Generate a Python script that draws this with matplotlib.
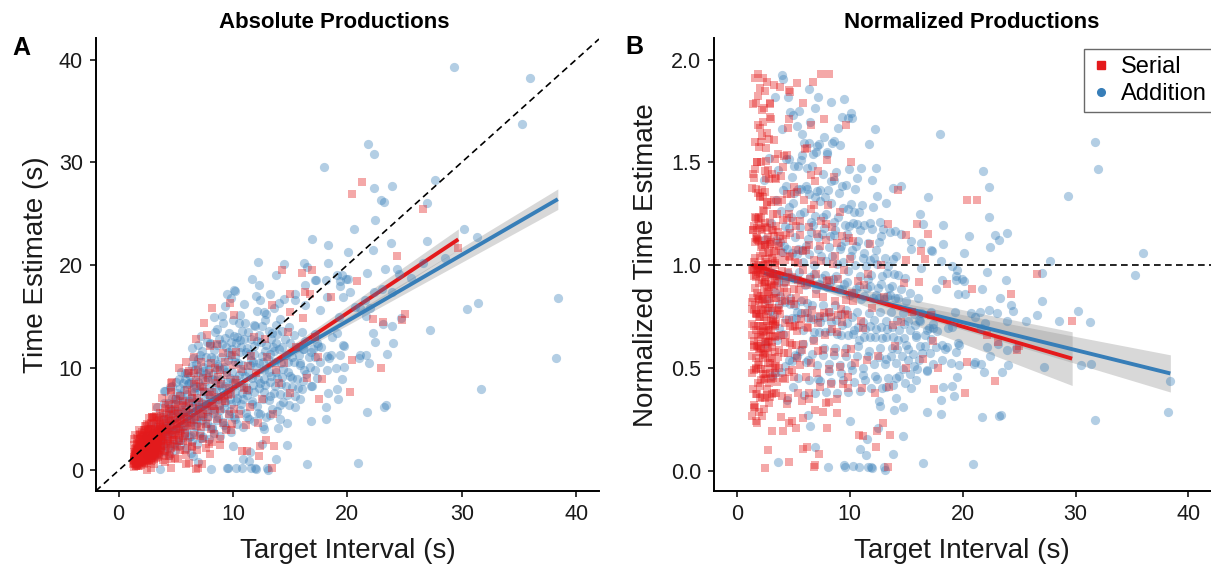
import matplotlib
matplotlib.use("Agg")
import matplotlib.pyplot as plt
import numpy as np
from matplotlib.lines import Line2D

plt.rcParams['font.family'] = ['Liberation Sans', 'DejaVu Sans']

# ---------------- data: (target interval s, time estimate s) ----------------
serial_core = [
    (1.31,0.35),(1.46,0.58),(1.38,0.77),(1.52,0.93),(1.33,1.05),(1.44,1.21),(1.36,1.33),(1.49,1.46),(1.40,1.64),(1.34,1.84),(1.47,2.12),(1.39,2.48),(1.32,3.05),(1.43,3.42),
    (1.57,0.49),(1.66,0.82),(1.55,0.98),(1.71,1.17),(1.61,1.30),(1.54,1.46),(1.68,1.58),(1.59,1.77),(1.73,1.96),(1.56,2.22),(1.63,2.61),(1.69,3.02),
    (1.77,0.41),(1.88,0.80),(1.74,1.06),(1.91,1.24),(1.81,1.38),(1.85,1.57),(1.76,1.74),(1.93,1.92),(1.80,2.13),(1.87,2.29),(1.75,2.63),(1.83,3.08),(1.90,3.46),(1.79,3.92),
    (1.99,0.57),(2.08,0.86),(1.96,1.04),(2.13,1.27),(2.02,1.42),(1.95,1.61),(2.10,1.79),(2.01,1.97),(2.06,2.15),(1.97,2.36),(2.12,2.49),(2.04,2.73),(1.98,3.12),(2.09,3.48),(2.03,3.78),
    (2.21,0.79),(2.29,1.08),(2.17,1.34),(2.33,1.57),(2.24,1.86),(2.19,2.03),(2.31,2.26),(2.22,2.44),(2.27,2.88),(2.16,3.24),(2.25,3.66),(2.34,3.97),
    (2.41,0.73),(2.49,1.12),(2.38,1.36),(2.54,1.59),(2.44,1.83),(2.39,2.08),(2.52,2.31),(2.45,2.52),(2.50,2.74),(2.37,2.99),(2.47,3.35),(2.56,3.86),(2.43,4.29),
    (2.63,1.05),(2.72,1.42),(2.59,1.70),(2.77,1.93),(2.66,2.22),(2.61,2.46),(2.74,2.75),(2.65,3.13),(2.70,3.49),(2.58,4.05),(2.68,4.40),
    (2.83,0.93),(2.92,1.39),(2.80,1.76),(2.97,1.95),(2.86,2.26),(2.81,2.51),(2.95,2.82),(2.88,3.07),(2.91,3.52),(2.79,4.08),(2.85,4.60),(2.94,5.24),
    (3.05,1.36),(3.14,1.73),(3.01,2.06),(3.19,2.33),(3.08,2.65),(3.03,2.90),(3.16,3.25),(3.09,3.62),(3.02,3.95),(3.13,4.52),(3.06,5.23),
    (3.27,1.24),(3.38,1.73),(3.24,2.12),(3.42,2.45),(3.31,2.78),(3.26,3.09),(3.40,3.44),(3.33,3.81),(3.25,4.28),(3.37,4.80),(3.29,5.30),
    (3.52,1.52),(3.63,2.01),(3.49,2.53),(3.68,2.87),(3.57,3.25),(3.51,3.58),(3.66,4.05),(3.59,4.49),(3.50,4.96),(3.64,5.60),
]
serial_core2 = [
    (1.50,0.90),(1.53,1.20),(1.48,1.50),(1.51,1.80),
    (1.72,0.94),(1.67,1.28),(1.70,1.62),(1.74,1.96),(1.68,2.30),
    (1.92,1.14),(1.89,1.33),(1.94,1.62),(1.90,1.90),(1.86,2.09),(1.93,2.38),
    (2.11,1.05),(2.07,1.37),(2.14,1.68),(2.09,2.00),(2.12,2.31),(2.05,2.73),(2.10,3.36),
    (2.32,1.27),(2.28,1.61),(2.35,1.96),(2.30,2.30),(2.26,2.65),(2.33,3.10),(2.29,4.37),
    (2.52,1.25),(2.48,1.55),(2.55,1.95),(2.51,2.30),(2.46,2.70),(2.53,3.05),(2.49,3.63),
    (2.71,1.62),(2.67,1.94),(2.74,2.38),(2.69,2.70),(2.73,3.10),(2.68,3.51),
    (2.91,1.60),(2.87,1.97),(2.93,2.38),(2.89,2.78),(2.95,3.25),(2.86,4.06),(2.92,5.22),
    (3.16,1.58),(3.12,1.95),(3.19,2.36),(3.14,2.84),(3.10,3.21),(3.17,3.72),
    (3.41,1.97),(3.37,2.38),(3.44,2.89),(3.39,3.40),(3.43,4.08),(3.36,5.10),
    (3.71,1.85),(3.67,2.40),(3.74,2.96),(3.69,3.50),(3.72,4.07),(3.68,4.81),
    (4.22,2.65),(4.28,3.55),(4.25,4.35),(4.74,2.95),(4.78,3.95),(4.72,4.90),(5.24,3.20),(5.28,4.45),(5.22,5.60),
]
serial_core3 = [
    (1.30,0.62),(1.33,0.88),(1.36,1.12),(1.41,1.38),(1.45,1.70),(1.48,0.45),(1.37,0.98),
    (1.53,0.75),(1.56,1.10),(1.60,1.42),(1.62,1.68),(1.65,0.62),(1.58,1.95),(1.67,2.05),
    (1.70,0.85),(1.73,1.32),(1.76,1.52),(1.78,2.02),(1.82,0.68),(1.84,1.12),(1.86,1.80),(1.89,2.55),
    (1.91,0.98),(1.94,1.45),(1.97,1.80),(1.99,2.22),(2.02,0.72),(2.05,1.18),(2.07,1.55),(2.10,2.05),
    (2.13,2.62),(2.15,0.95),(2.18,1.45),(2.20,1.72),(2.23,2.15),(2.26,0.60),(2.28,1.30),(2.31,1.82),
    (2.34,2.48),(2.36,1.05),(2.39,1.62),(2.42,2.20),(2.45,2.90),(2.48,0.88),(2.51,1.42),(2.53,2.05),
    (2.56,2.60),(2.59,1.22),(2.62,1.85),(2.64,2.35),(2.67,3.00),(2.70,1.00),(2.73,1.60),(2.76,2.15),
    (2.78,2.95),(2.82,1.20),(2.85,1.80),(2.88,2.45),(2.90,3.20),(2.93,1.05),(2.96,1.55),(2.99,2.20),
    (3.02,2.75),(3.05,3.40),(3.08,1.15),(3.11,1.88),(3.15,2.50),(3.18,3.05),(3.21,1.45),(3.24,2.30),
    (3.28,2.95),(3.32,3.55),(3.35,1.60),(3.39,2.20),(3.42,3.15),(3.46,3.70),(3.50,1.80),(3.54,2.75),
    (3.58,3.40),(3.62,4.20),(3.45,1.30),(3.20,4.00),(2.60,3.70),(2.20,3.00),(1.80,2.70),(1.60,2.35),
]
serial_mid2 = [
    (3.75,2.2),(3.80,3.3),(3.85,4.4),(3.90,5.6),(3.95,2.6),(4.02,3.9),(4.10,5.0),(4.18,6.4),(4.25,1.9),(4.30,3.1),
    (4.35,4.0),(4.40,5.4),(4.45,6.0),(4.52,2.6),(4.60,4.8),(4.68,3.3),(4.75,5.5),(4.82,6.5),(4.90,2.4),(5.00,3.5),
    (5.10,4.5),(5.20,6.2),(5.30,2.9),(5.40,5.0),(5.50,3.9),(5.60,6.8),(5.70,5.2),(5.80,3.4),(5.90,6.3),(6.00,4.6),
    (6.20,5.6),(6.40,7.6),(6.60,4.9),(6.80,8.8),(7.00,6.7),(7.20,4.2),(7.40,8.1),(7.70,5.9),(7.90,9.5),(8.20,7.6),
    (8.40,5.8),(8.70,9.1),(9.00,6.8),(9.30,10.6),(9.60,7.3),(9.90,11.2),(10.30,8.5),(10.70,9.9),(11.20,7.8),(11.60,11.1),
]
serial_high = [
    (1.64,3.13),(1.84,3.55),(2.70,5.10),(3.30,6.20),(3.80,7.10),(2.46,4.55),(2.23,3.91),(2.97,5.11),
    (4.60,8.51),(4.70,8.65),(5.30,9.99),(5.90,10.56),(6.75,12.76),(7.46,14.40),(8.20,15.83),(4.60,7.87),
    (7.70,13.17),(6.60,11.09),(7.20,10.51),(6.60,9.50),(8.60,12.30),(6.20,9.73),(8.00,12.08),(10.10,15.15),
]
serial_mid = [
    (3.92,1.02),(4.07,1.83),(4.15,2.38),(3.86,2.94),(4.01,3.31),(4.18,3.72),(3.89,4.12),(4.11,4.63),(3.97,5.22),(4.09,6.05),
    (4.41,1.43),(4.58,2.21),(4.36,2.87),(4.66,3.42),(4.47,3.88),(4.55,4.41),(4.39,5.03),(4.62,5.77),(4.44,6.82),(4.57,7.61),
    (4.91,1.19),(5.08,2.32),(4.86,2.98),(5.16,3.63),(5.02,4.08),(4.89,4.62),(5.12,5.21),(4.96,6.03),(5.05,6.97),
    (5.38,2.03),(5.61,2.88),(5.33,3.62),(5.67,4.19),(5.49,4.83),(5.42,5.47),(5.58,6.41),(5.36,7.28),
    (5.89,1.52),(6.11,2.79),(5.84,3.61),(6.17,4.33),(5.98,4.98),(5.87,5.72),(6.13,6.58),(5.95,7.83),(6.06,9.48),
    (6.38,2.42),(6.61,3.47),(6.33,4.41),(6.68,5.23),(6.49,6.07),(6.42,7.04),(6.57,8.38),
    (6.88,2.03),(7.12,3.38),(6.84,4.32),(7.18,5.17),(6.99,6.02),(6.86,7.03),(7.14,8.21),(6.93,9.77),
    (7.39,3.02),(7.61,4.48),(7.34,5.52),(7.66,6.47),(7.48,7.62),(7.42,9.03),
    (7.88,2.61),(8.12,4.03),(7.83,5.18),(8.17,6.32),(7.99,7.38),(7.86,8.82),(8.09,10.47),
    (8.38,3.52),(8.62,4.97),(8.33,6.23),(8.67,7.18),(8.49,8.52),(8.41,9.97),
    (8.87,3.08),(9.13,4.62),(8.84,5.97),(9.18,7.23),(8.99,8.38),(8.86,9.82),(9.11,11.47),
    (9.38,3.98),(9.62,5.52),(9.34,6.78),(9.66,8.03),(9.49,9.28),
    (9.88,4.52),(10.12,6.02),(9.84,7.48),(10.17,8.82),(9.98,10.27),
]
serial_sparse = [
    (10.5,5.5),(11.0,8.0),(11.5,6.2),(12.0,9.5),(12.5,7.0),(13.0,11.0),(13.5,5.5),(14.0,8.5),(14.5,10.5),(15.0,7.5),
    (15.5,12.0),(11.8,13.0),(12.2,4.6),(13.8,9.8),(14.8,13.5),(10.3,11.5),(11.3,10.2),(12.8,12.8),(16.5,9.0),(17.2,13.0),
    (13.4,16.1),(15.0,17.2),(16.0,19.2),(16.9,19.5),(14.3,19.5),(16.3,17.4),(16.7,17.2),(15.0,15.4),(16.1,14.8),(18.6,16.9),
    (17.4,11.0),(20.4,10.8),(17.8,8.9),(17.5,7.0),(20.2,7.6),(20.8,18.4),(20.4,26.9),(21.3,28.1),(26.6,25.5),(29.7,21.7),
    (24.3,20.9),(22.2,14.7),(23.1,14.5),(24.8,14.6),(25.0,15.2),(22.9,10.0),(9.7,16.3),
]
serial_low = [
    (2.5,0.03),(2.8,0.28),(4.6,0.2),(5.9,0.64),(6.2,0.71),(7.3,0.6),(6.8,0.14),(4.1,0.8),(3.1,0.6),(5.2,1.08),
    (8.0,1.65),(7.6,2.19),(8.9,2.5),(10.8,1.9),(11.2,1.9),(12.4,2.4),(12.9,3.0),(13.6,2.4),(13.4,0.23),(12.3,1.4),
    (6.9,0.2),(1.5,0.48),(1.7,0.41),(4.6,1.08),(4.0,1.45),(4.5,1.60),(5.8,1.98),(6.4,2.25),(8.2,2.75),(9.8,3.95),(11.1,4.45),
]

addition_core = [
    (2.46,1.52),(2.63,2.18),(2.51,2.83),(2.38,3.37),
    (3.07,1.41),(2.92,2.27),(3.14,3.02),(3.01,3.63),(2.88,4.38),
    (3.41,1.62),(3.58,2.28),(3.36,2.93),(3.66,3.37),(3.49,3.92),(3.44,4.53),(3.61,5.28),(3.39,6.17),
    (3.93,1.88),(4.09,2.72),(3.86,3.28),(4.16,3.83),(4.02,4.27),(3.89,4.92),(4.12,5.63),(3.96,6.58),(4.06,7.73),
    (4.42,1.53),(4.61,2.48),(4.37,3.22),(4.67,3.78),(4.51,4.33),(4.44,4.79),(4.58,5.42),(4.39,6.08),(4.63,7.02),(4.49,8.17),
    (4.93,2.02),(5.11,2.88),(4.87,3.62),(5.17,4.18),(5.02,4.72),(4.89,5.18),(5.13,5.83),(4.96,6.47),(5.08,7.52),(4.98,8.63),
    (5.41,2.43),(5.62,3.27),(5.36,4.13),(5.68,4.68),(5.51,5.32),(5.44,5.87),(5.59,6.63),(5.38,7.38),(5.64,8.52),(5.47,9.58),
    (5.91,2.18),(6.12,3.23),(5.86,4.02),(6.18,4.77),(6.01,5.43),(5.89,5.98),(6.14,6.72),(5.94,7.48),(6.08,8.43),(5.97,9.52),
    (6.39,2.83),(6.62,3.77),(6.34,4.72),(6.68,5.38),(6.51,6.13),(6.43,6.78),(6.58,7.63),(6.37,8.57),(6.64,9.83),(6.47,10.98),
    (6.89,2.62),(7.13,3.68),(6.84,4.63),(7.19,5.37),(7.02,6.22),(6.87,6.88),(7.15,7.72),(6.93,8.58),(7.08,9.63),(6.97,10.82),(6.91,12.18),
    (7.38,3.22),(7.62,4.28),(7.34,5.33),(7.67,6.18),(7.51,7.03),(7.43,7.78),(7.58,8.72),(7.37,9.68),(7.64,11.03),
    (7.87,3.02),(8.13,4.22),(7.83,5.28),(8.18,6.33),(8.01,7.18),(7.88,8.03),(8.14,8.88),(7.93,9.92),(8.08,11.02),(7.97,12.28),
    (8.38,3.62),(8.63,4.88),(8.34,6.03),(8.68,6.98),(8.51,7.93),(8.42,8.78),(8.57,9.83),(8.36,10.88),(8.64,12.23),(8.47,13.52),
    (8.88,3.38),(9.13,4.72),(8.84,5.88),(9.19,7.03),(9.02,7.98),(8.87,8.92),(9.14,9.88),(8.93,11.03),(9.08,12.28),
    (9.37,4.12),(9.63,5.38),(9.33,6.62),(9.68,7.58),(9.51,8.63),(9.42,9.58),(9.58,10.73),(9.36,11.97),(9.64,13.42),
    (9.87,3.78),(10.13,5.22),(9.83,6.48),(10.18,7.63),(10.02,8.58),(9.88,9.62),(10.14,10.57),(9.93,11.83),(10.08,13.08),(9.97,14.62),
    (10.38,4.48),(10.63,5.92),(10.34,7.08),(10.68,8.23),(10.51,9.28),(10.42,10.43),(10.58,11.58),(10.37,13.03),
    (10.88,4.22),(11.13,5.58),(10.84,6.92),(11.18,8.08),(11.02,9.23),(10.87,10.28),(11.14,11.53),(10.93,12.78),(11.08,14.32),
    (11.37,5.02),(11.63,6.48),(11.33,7.82),(11.68,8.98),(11.51,10.22),(11.42,11.38),(11.58,12.83),
    (11.87,4.78),(12.13,6.32),(11.83,7.68),(12.18,8.92),(12.02,10.08),(11.88,11.32),(12.14,12.58),(11.93,14.03),(12.08,15.48),
    (12.38,5.52),(12.63,6.98),(12.34,8.53),(12.68,9.78),(12.51,11.12),(12.42,12.48),(12.58,14.02),
    (12.87,5.18),(13.13,6.82),(12.84,8.28),(13.18,9.63),(13.02,10.88),(12.88,12.22),(13.14,13.58),(12.93,15.23),
    (13.37,6.02),(13.63,7.58),(13.33,9.22),(13.68,10.58),(13.51,12.03),(13.42,13.38),
    (13.87,5.78),(14.13,7.42),(13.83,8.98),(14.18,10.42),(14.02,11.78),(13.88,13.32),(14.14,14.78),
    (14.38,6.62),(14.63,8.18),(14.34,9.83),(14.68,11.28),(14.51,12.82),
    (14.87,6.38),(15.13,8.12),(14.83,9.58),(15.18,11.03),(15.02,12.38),(14.88,13.97),
    (15.38,7.22),(15.63,8.88),(15.34,10.52),(15.68,11.98),
    (15.87,6.98),(16.13,8.72),(15.83,10.28),(16.18,11.82),(16.02,13.48),
    (16.38,9.42),(16.63,11.02),(16.34,12.58),
    (16.87,8.22),(17.13,9.78),(16.84,11.52),(17.18,13.28),
    (17.38,9.02),(17.63,10.58),(17.34,12.42),
]
addition_core2 = [
    (5.25,3.9),(5.30,5.6),(5.72,4.4),(5.78,6.2),(6.25,5.1),(6.30,7.1),(6.75,5.0),(6.80,6.5),(6.78,8.1),(7.25,4.9),
    (7.28,6.6),(7.22,8.2),(7.75,5.8),(7.78,7.4),(7.72,9.1),(8.25,5.6),(8.28,7.6),(8.22,9.4),(8.75,6.4),(8.78,8.3),
    (8.72,10.2),(9.25,6.1),(9.28,8.2),(9.22,10.1),(9.75,7.0),(9.78,9.0),(9.72,11.2),(10.25,6.8),(10.28,8.9),(10.22,11.0),
    (10.75,7.5),(10.78,9.7),(10.72,12.0),(11.25,7.3),(11.28,9.6),(11.22,11.9),(11.75,8.3),(11.78,10.6),(12.25,8.0),(12.28,10.5),
    (12.75,8.9),(12.78,11.6),(13.25,8.6),(13.28,11.3),(13.75,9.6),(13.78,12.4),(14.25,9.1),(14.28,12.0),(4.25,3.5),(4.28,5.1),
    (4.75,4.0),(4.78,5.9),(3.75,2.6),(3.78,4.2),
]
addition_core3 = [
    (4.30,2.2),(4.35,6.6),(4.85,2.6),(4.90,7.0),(5.35,3.0),(5.40,8.0),(5.85,3.6),(5.80,8.9),(6.30,3.4),(6.25,9.2),
    (6.70,4.3),(6.75,10.4),(7.20,3.2),(7.30,11.6),(7.70,4.6),(7.80,10.4),(8.20,4.0),(8.30,11.7),(8.70,5.2),(8.80,12.8),
    (9.20,4.4),(9.30,12.9),(9.70,5.8),(9.80,12.5),(10.20,5.0),(10.30,12.4),(10.70,6.5),(10.80,13.6),(11.20,5.2),(11.30,13.5),
    (11.70,6.8),(11.80,12.1),(12.20,5.6),(12.30,13.2),(12.70,7.6),(12.80,14.6),(13.20,7.2),(13.30,12.8),(13.70,8.2),(13.80,14.2),
    (14.20,8.4),(14.30,13.6),(14.70,7.3),(14.80,10.6),(15.20,9.0),(15.30,13.2),(15.70,8.0),(15.80,11.2),(16.20,9.8),(16.70,10.1),
    (17.20,11.0),(17.70,12.0),(18.20,9.8),(18.70,13.0),(5.60,7.0),(6.60,8.0),(7.60,9.4),(8.60,10.4),(9.60,11.5),(10.60,12.7),
    (11.60,10.8),(12.60,10.6),(13.60,11.6),(3.30,2.5),(3.70,3.0),(4.20,4.6),(4.60,5.9),(5.10,6.9),(5.70,7.8),(6.20,8.5),
    (6.90,9.2),(7.40,10.1),
]
addition_high = [
    (4.0,7.7),(4.7,8.2),(5.3,8.9),(5.8,9.5),(6.4,11.9),(6.4,10.2),(7.1,11.2),(7.2,13.1),(8.0,12.4),(8.3,14.9),
    (9.0,15.0),(9.1,14.4),(9.8,16.8),(10.1,17.6),(9.5,17.2),(10.2,17.5),(11.7,18.6),(10.6,15.1),(10.5,14.4),(12.4,16.6),
    (13.2,17.2),(11.8,14.2),(12.7,15.4),(13.6,15.8),(14.5,16.7),(15.4,17.2),(16.3,18.1),(17.3,18.5),(8.6,13.8),(7.7,12.5),
    (9.3,16.0),(11.0,16.2),(12.0,17.0),(14.0,16.3),
]
addition_sparse = [
    (29.35,39.3),(36.0,38.2),(35.3,33.7),(21.8,31.8),(22.3,30.8),(18.0,29.5),(22.3,27.5),(23.9,27.7),(27.7,28.3),(22.9,26.3),
    (23.2,26.1),(27.0,26.0),(22.4,24.4),(20.6,23.5),(30.2,23.5),(31.3,22.7),(16.9,22.5),(18.3,21.9),(23.8,22.1),(27.0,22.3),
    (22.2,21.5),(20.1,21.3),(28.5,20.7),(18.3,20.2),(16.2,20.2),(16.5,19.8),(21.7,19.2),(23.3,19.6),(24.3,19.6),(19.1,19.0),
    (19.5,19.0),(17.2,18.5),(18.1,18.5),(20.1,18.6),(19.4,18.0),
    (38.4,16.8),(38.2,10.9),(31.7,7.9),(30.5,15.7),(31.4,16.3),(27.2,13.7),(23.1,14.3),(23.9,14.1),(24.0,12.4),(23.5,11.3),
    (22.4,12.5),(22.2,13.4),(24.7,14.8),(21.6,11.2),(21.7,5.7),(23.2,6.2),(23.4,6.4),(20.9,0.7),(21.0,10.9),(19.5,8.9),
    (19.2,7.0),(19.1,7.9),(18.1,6.2),(18.1,5.0),(16.8,4.8),(16.5,0.6),(16.8,8.2),
    (12.2,20.3),(14.5,20.1),(13.8,19.0),(12.3,18.1),(19.9,18.6),(21.6,15.0),(21.1,11.2),(19.7,12.1),(19.1,13.4),(17.4,12.1),
    (18.2,11.1),(19.0,10.0),(19.7,10.1),(15.4,6.2),(15.0,9.2),(16.0,7.9),(14.7,4.6),(13.9,4.1),(13.2,5.4),(12.7,4.0),
    (14.1,6.4),(15.9,10.5),(17.0,11.8),(16.1,11.8),(16.3,16.1),(17.6,15.6),(15.4,16.6),(18.2,16.9),(19.6,16.9),(20.2,17.4),
    (21.1,15.8),(22.0,15.8),
    (24.5,19.1),(26.6,20.2),(25.6,18.7),(21.5,16.6),(22.3,17.4),(23.0,17.7),(23.9,17.4),(19.3,14.9),(20.7,15.9),(19.4,11.2),
    (18.4,10.9),(19.6,12.2),(18.6,11.2),(21.9,10.5),(18.3,7.5),(19.4,18.4),(31.7,50.7),(32.0,47.0),
]
addition_low = [
    (9.5,0.25),(10.3,0.25),(11.9,0.2),(8.1,0.15),(12.5,2.6),(13.0,0.25),(13.8,1.1),(14.7,2.5),(11.4,0.9),(10.0,2.4),
    (3.6,0.15),(6.9,0.8),(9.6,0.2),(10.8,0.2),(12.0,0.15),(11.6,0.2),(13.1,0.05),(10.9,1.15),(11.5,1.8),(6.5,1.42),
    (6.3,1.7),(12.6,4.3),(14.1,5.0),
]

# linear fits: [intercept, slope]
fit_abs = {'Serial': [0.55, 0.739], 'Addition': [1.64, 0.645]}
fit_norm = {'Serial': [1.023, -0.01607], 'Addition': [0.994, -0.01355]}
# confidence band: [half-width at centre, growth per second, centre]
band_abs = {'Serial': [0.15, 0.039, 4.0], 'Addition': [0.15, 0.033, 8.5]}
band_norm = {'Serial': [0.012, 0.00506, 4.0], 'Addition': [0.012, 0.0030, 8.5]}

labels = ['Serial', 'Addition']
colors = {'Serial': '#E41A1C', 'Addition': '#377EB8'}
markers = {'Serial': 's', 'Addition': 'o'}
sizes = {'Serial': 36, 'Addition': 44}

def to_arrays(*parts):
    a = np.array([p for part in parts for p in part], dtype=float)
    return a[:, 0], a[:, 1]

data = {
    'Serial': to_arrays(serial_core, serial_core2, serial_core3, serial_high, serial_mid,
                        serial_mid2, serial_sparse, serial_low),
    'Addition': to_arrays(addition_core, addition_core2, addition_core3, addition_high,
                          addition_sparse, addition_low),
}

W, H = 1211, 567
fig = plt.figure(figsize=(W / 100, H / 100), dpi=100)

def px_axes(l, t, r, b):
    return fig.add_axes([l / W, 1 - b / H, (r - l) / W, (b - t) / H])

axA = px_axes(95.7, 38, 599, 491)
axB = px_axes(714.3, 38, 1211, 491)

def style(ax):
    for s in ['top', 'right']:
        ax.spines[s].set_visible(False)
    for s in ['left', 'bottom']:
        ax.spines[s].set_linewidth(1.4)
        ax.spines[s].set_color('black')
    ax.tick_params(axis='both', which='major', length=4.3, width=1.1,
                   labelsize=15.5, pad=5, colors='black', labelcolor='#1a1a1a')

def draw_fit(ax, t, fit, bp, color):
    xs = np.linspace(t.min(), t.max(), 200)
    y = fit[0] + fit[1] * xs
    hw = np.sqrt(bp[0] ** 2 + (bp[1] * (xs - bp[2])) ** 2)
    ax.fill_between(xs, y - hw, y + hw, color='#999999', alpha=0.38, lw=0, zorder=1)
    ax.plot(xs, y, color=color, lw=2.8, zorder=2, solid_capstyle='butt')

for lab in ['Addition', 'Serial']:
    t, e = data[lab]
    draw_fit(axA, t, fit_abs[lab], band_abs[lab], colors[lab])
    draw_fit(axB, t, fit_norm[lab], band_norm[lab], colors[lab])

# Addition first, Serial drawn on top
for z, lab in enumerate(['Addition', 'Serial']):
    t, e = data[lab]
    axA.scatter(t, e, s=sizes[lab], marker=markers[lab], color=colors[lab],
                alpha=0.38, linewidths=0, zorder=3 + z)
    axB.scatter(t, e / t, s=sizes[lab], marker=markers[lab], color=colors[lab],
                alpha=0.38, linewidths=0, zorder=3 + z)

axA.plot([-2, 42], [-2, 42], color='black', lw=1.2, ls=(0, (4, 2.6)), zorder=6)
axB.axhline(1.0, color='black', lw=1.2, ls=(0, (4, 2.6)), zorder=6)

axA.set_xlim(-2, 42); axA.set_ylim(-2, 42.1)
axB.set_xlim(-2, 42); axB.set_ylim(-0.098, 2.105)
axA.set_xticks([0, 10, 20, 30, 40]); axA.set_yticks([0, 10, 20, 30, 40])
axB.set_xticks([0, 10, 20, 30, 40]); axB.set_yticks([0.0, 0.5, 1.0, 1.5, 2.0])
axB.set_yticklabels(['0.0', '0.5', '1.0', '1.5', '2.0'])
style(axA); style(axB)

def ftext(x, y, s, **kw):
    fig.text(x / W, 1 - y / H, s, **kw)

ftext(334.5, 22.6, 'Absolute Productions', ha='center', va='center', fontsize=16, fontweight='bold')
ftext(972, 22.6, 'Normalized Productions', ha='center', va='center', fontsize=16, fontweight='bold')
ftext(12, 55, 'A', ha='left', va='baseline', fontsize=18, fontweight='bold')
ftext(625, 54, 'B', ha='left', va='baseline', fontsize=18, fontweight='bold')
ftext(347.5, 551, 'Target Interval (s)', ha='center', va='center', fontsize=20, color='#1a1a1a')
ftext(962, 551, 'Target Interval (s)', ha='center', va='center', fontsize=20, color='#1a1a1a')
ftext(36, 265, 'Time Estimate (s)', ha='center', va='center', rotation=90, fontsize=20, color='#1a1a1a')
ftext(646.4, 265, 'Normalized Time Estimate', ha='center', va='center', rotation=90, fontsize=20, color='#1a1a1a')

handles = [Line2D([], [], ls='none', marker=markers[l], color=colors[l], markersize=5.5) for l in labels]
leg = fig.legend(handles, labels, loc='upper left', bbox_to_anchor=(1084 / W, 1 - 49 / H),
                 bbox_transform=fig.transFigure, borderaxespad=0, frameon=True, fancybox=False,
                 fontsize=17, handlelength=0.8, handletextpad=0.45, borderpad=0.3,
                 labelspacing=0.2, edgecolor='#444444')
leg.get_frame().set_linewidth(1.0)

fig.savefig('out.png', dpi=100)
